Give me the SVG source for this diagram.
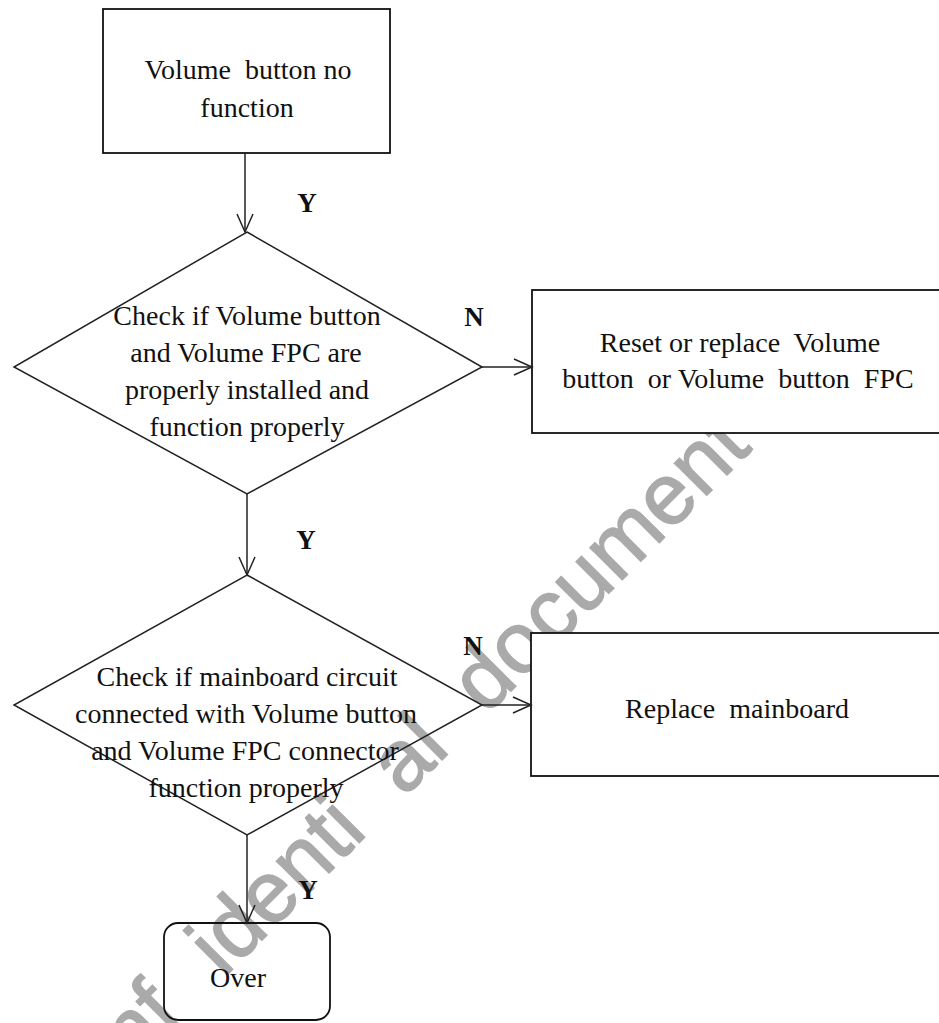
<svg xmlns="http://www.w3.org/2000/svg" width="939" height="1023" viewBox="0 0 939 1023">
<style>
.t{font-family:"Liberation Serif","Times New Roman",serif;font-size:28px;fill:#111;text-anchor:middle;white-space:pre}
.lbl{font-family:"Liberation Serif","Times New Roman",serif;font-size:27px;font-weight:bold;fill:#111;text-anchor:middle}
.box{fill:#fff;stroke:#111;stroke-width:1.8}
.dia{fill:none;stroke:#222;stroke-width:1.5}
.con{stroke:#222;stroke-width:1.5;fill:none;marker-end:url(#arr)}
.wm{font-family:"Liberation Sans",Arial,sans-serif;font-size:86px;fill:#aaa;stroke:#aaa;stroke-width:1.5}
</style>
<defs>
<marker id="arr" markerUnits="userSpaceOnUse" markerWidth="40" markerHeight="40" viewBox="-20 -20 40 40" refX="0" refY="0" orient="auto">
<path d="M-18,-8 L0,0 L-18,8" fill="none" stroke="#222" stroke-width="1.5"/>
</marker>
</defs>
<rect width="939" height="1023" fill="#fff"/>
<text class="wm" transform="translate(56,1146) rotate(-45)" dx="0 0 0 0 55 0 0 0 0 0 50 0 0 25">Confidential document</text>
<g id="n_start">
<rect class="box" x="103" y="9" width="287" height="144"/>
<text class="t" x="248" y="79">Volume  button no</text>
<text class="t" x="247" y="117">function</text>
</g>
<g id="n_check1">
<polygon class="dia" points="247,232 482,367 247,494 14,367"/>
<text class="t" x="247" y="325">Check if Volume button</text>
<text class="t" x="246" y="362">and Volume FPC are</text>
<text class="t" x="247" y="399">properly installed and</text>
<text class="t" x="247" y="436">function properly</text>
</g>
<g id="n_reset">
<rect class="box" x="532" y="290" width="420" height="143"/>
<text class="t" x="740" y="352">Reset or replace  Volume</text>
<text class="t" x="738" y="388">button  or Volume  button  FPC</text>
</g>
<g id="n_check2">
<polygon class="dia" points="247,575 482,705 247,835 14,705"/>
<text class="t" x="247" y="686">Check if mainboard circuit</text>
<text class="t" x="246" y="723">connected with Volume button</text>
<text class="t" x="245" y="760">and Volume FPC connector</text>
<text class="t" x="246" y="797">function properly</text>
</g>
<g id="n_replace">
<rect class="box" x="531" y="633" width="420" height="143"/>
<text class="t" x="737" y="718">Replace  mainboard</text>
</g>
<g id="n_over">
<rect x="164" y="923" width="166" height="97" rx="14" fill="none" stroke="#111" stroke-width="1.8"/>
<text class="t" x="238" y="987">Over</text>
</g>
<g id="connectors">
<line class="con" x1="245" y1="153" x2="245" y2="232"/>
<text class="lbl" x="307" y="212">Y</text>
<line class="con" x1="482" y1="367" x2="532" y2="367"/>
<text class="lbl" x="474" y="326">N</text>
<line class="con" x1="247" y1="494" x2="247" y2="575"/>
<text class="lbl" x="306" y="549">Y</text>
<line class="con" x1="482" y1="705" x2="531" y2="705"/>
<text class="lbl" x="473" y="655">N</text>
<line class="con" x1="247" y1="835" x2="247" y2="923"/>
<text class="lbl" x="308" y="899">Y</text>
</g>
</svg>
